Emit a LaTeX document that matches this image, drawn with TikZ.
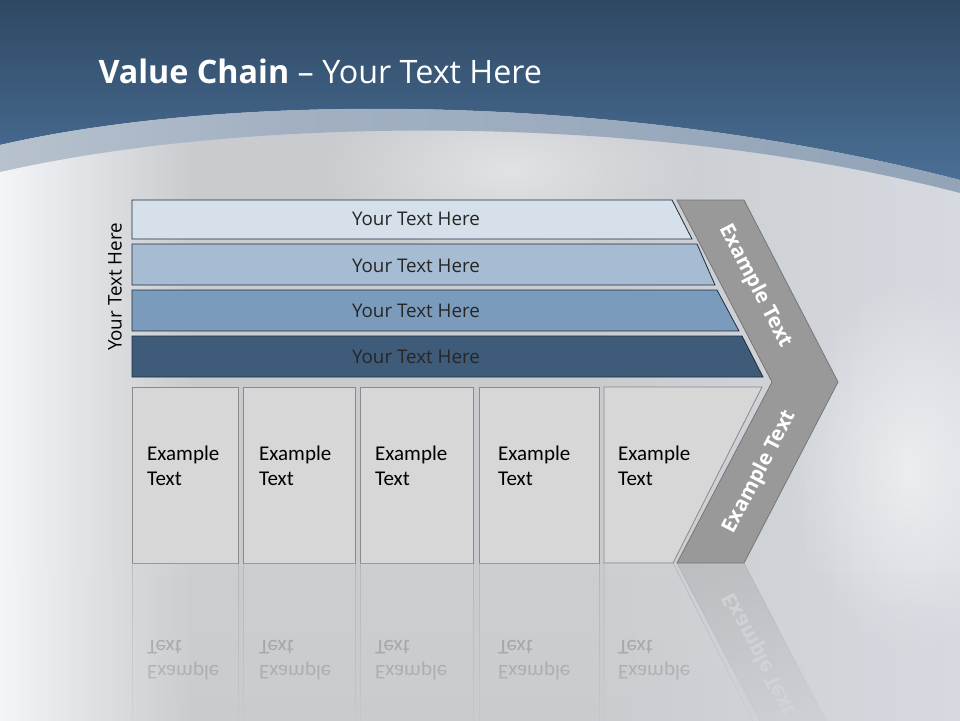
\documentclass[tikz,border=0pt]{standalone}
\usepackage{fontspec}
\setmainfont{Carlito}
\newfontfamily\barfont{Open Sans}
\usetikzlibrary{fadings}

\definecolor{topblue}{HTML}{2E4863}
\definecolor{midblue}{HTML}{4A6F96}
\definecolor{bandL}{HTML}{B8C2CE}
\definecolor{bandM}{HTML}{A2B0C2}
\definecolor{bandR}{HTML}{93A4B8}
\definecolor{bgL}{HTML}{F3F5F8}
\definecolor{bgM}{HTML}{C9CBCF}
\definecolor{bgR}{HTML}{D6DAE0}
\definecolor{barA}{HTML}{D5E0EA}
\definecolor{barB}{HTML}{A6BCD3}
\definecolor{barC}{HTML}{7B9BBC}
\definecolor{barD}{HTML}{3E5B79}
\definecolor{barline}{HTML}{1F2C3A}
\definecolor{chev}{HTML}{999999}
\definecolor{chevline}{HTML}{767676}
\definecolor{boxfill}{HTML}{D7D7D7}
\definecolor{boxline}{HTML}{8A8A8A}

\pgfdeclarehorizontalshading{bgshade}{100bp}{color(0bp)=(bgL); color(25bp)=(bgL); color(35bp)=(bgM); color(56bp)=(bgM); color(75bp)=(bgR); color(100bp)=(bgR)}
\pgfdeclarehorizontalshading{bandshade}{100bp}{color(0bp)=(bandL); color(25bp)=(bandL); color(40bp)=(bandM); color(75bp)=(bandR); color(100bp)=(bandR)}
\tikzfading[name=fadeout, top color=transparent!100, bottom color=transparent!0]
\tikzfading[name=softblob, inner color=transparent!0, outer color=transparent!100]

\begin{document}
\begin{tikzpicture}[x=1pt, y=-1pt,
    bar/.style={draw=barline, line width=0.8pt},
    bartext/.style={font=\barfont\fontsize{18.8}{22}\selectfont, text=black!85, anchor=base},
    cell/.style={fill=boxfill, draw=boxline, line width=0.8pt},
    celltext/.style={font=\fontsize{21}{25.7}\selectfont, align=left, anchor=north west, inner sep=0pt},
    armtext/.style={font=\barfont\bfseries\fontsize{20.5}{22}\selectfont, text=white}]
  \clip (0,0) rectangle (960,720);
  % Hintergrund
  \shade[shading=bgshade] (0,0) rectangle (960,720);
  \fill[white, opacity=0.45, path fading=softblob] (510,170) ellipse (190 and 90);
  \fill[white, opacity=0.55, path fading=softblob] (910,470) ellipse (120 and 190);
  \shade[top color=topblue, bottom color=midblue] (0,0) -- (960,0) -- (960,180) .. controls (620,92) and (230,92) .. (0,145) -- cycle;
  \shade[shading=bandshade] (0,145) .. controls (230,92) and (620,92) .. (960,180) -- (960,193) .. controls (650,112) and (250,115) .. (0,172) -- cycle;

  \node[anchor=base west, text=white, font=\barfont\fontsize{32.3}{38}\selectfont] (title) at (95,83.5) {\textbf{Value Chain} – Your Text Here};

  % Balken
  \foreach \c/\yt/\yb/\xt/\xb/\ty in {barA/200/239/672/692/225, barB/244/285/697/715/272.7, barC/290/331/717/739/317.7, barD/336/377/742/763/363.3}{
    \draw[bar, fill=\c] (132,\yt) -- (\xt,\yt) -- (\xb,\yb) -- (132,\yb) -- cycle;
    \node[bartext] (txt\c) at (416,\ty) {Your Text Here};
  }
  \node[bartext, text=black, rotate=90] (side) at (121.7,287) {Your Text Here};

  % Kaesten
  \foreach \n/\xl/\xr/\tx in {1/132/238/147, 2/243/355/259, 3/360/473/375, 4/479/599/498}{
    \draw[cell] (\xl,387) rectangle (\xr,563);
    \node[celltext] (cell\n) at (\tx,445.5) {Example\\Text};
  }
  \draw[cell] (604,387) -- (762,387) -- (673,563) -- (604,563) -- cycle;
  \node[celltext] (cell5) at (618,445.5) {Example\\Text};

  % Pfeil
  \draw[fill=chev, draw=chevline, line width=0.8pt] (677,200) -- (744,200) -- (838,382) -- (744,563) -- (677,563) -- (772,382) -- cycle;
  \node[armtext, rotate=-62.6] (armup) at (755,286) {Example Text};
  \node[armtext, rotate=62.6] (armdown) at (760,472) {Example Text};

  % Spiegelung
  \begin{scope}[shift={(0,1126)}, yscale=-1, opacity=0.3, transform shape]
    \foreach \n/\xl/\xr/\tx in {1/132/238/147, 2/243/355/259, 3/360/473/375, 4/479/599/498}{
      \draw[cell] (\xl,387) rectangle (\xr,563);
      \node[celltext] (mcell\n) at (\tx,445.5) {Example\\Text};
    }
    \draw[cell] (604,387) -- (762,387) -- (673,563) -- (604,563) -- cycle;
    \node[celltext] (mcell5) at (618,445.5) {Example\\Text};
    \draw[fill=chev, draw=chevline] (772,382) -- (838,382) -- (744,563) -- (677,563) -- cycle;
    \node[armtext, rotate=62.6] (marm) at (760,472) {Example Text};
  \end{scope}
  \shade[shading=bgshade, path fading=fadeout] (0,572) rectangle (960,760);
\end{tikzpicture}
\end{document}
